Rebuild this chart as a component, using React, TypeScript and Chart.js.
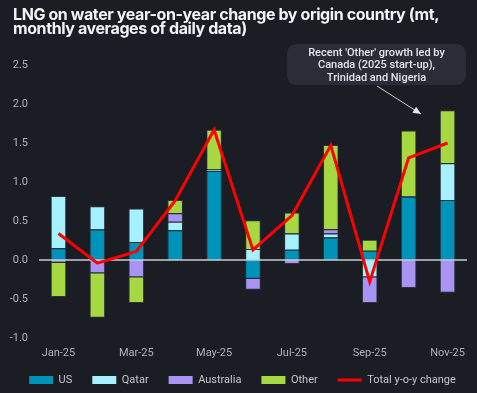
import React, { useEffect, useRef } from "react";
import { Chart, registerables } from "chart.js";
Chart.register(...registerables);

const BG = "#1b1d25";

const months = ["Jan-25", "Feb-25", "Mar-25", "Apr-25", "May-25", "Jun-25", "Jul-25", "Aug-25", "Sep-25", "Oct-25", "Nov-25"];
const usValues = [0.15, 0.39, 0.23, 0.38, 1.14, -0.24, 0.13, 0.29, 0.12, 0.81, 0.77];
const qatarValues = [0.67, 0.3, 0.43, 0.11, 0.02, 0.14, 0.21, 0.05, -0.22, 0.01, 0.47];
const australiaValues = [-0.035, -0.17, -0.22, 0.11, 0, -0.14, -0.05, 0.055, -0.33, -0.36, -0.42];
const otherValues = [-0.44, -0.57, -0.33, 0.17, 0.51, 0.37, 0.27, 1.08, 0.14, 0.84, 0.68];
const totalValues = [0.34, -0.04, 0.11, 0.76, 1.67, 0.13, 0.57, 1.47, -0.28, 1.31, 1.5];

const titleLines = ["LNG on water year-on-year change by origin country (mt,", "monthly averages of daily data)"];
const noteLines = ["Recent 'Other' growth led by", "Canada (2025 start-up),", "Trinidad and Nigeria"];

const zeroLinePlugin = {
  id: "zeroLine",
  afterDatasetDraw(chart: any, args: any) {
    if (args.index !== 0) return;
    const { ctx, chartArea, scales } = chart;
    const y = scales.y.getPixelForValue(0);
    ctx.save();
    ctx.strokeStyle = "#c9ccd4";
    ctx.lineWidth = 1.5;
    ctx.beginPath();
    ctx.moveTo(chartArea.left, y);
    ctx.lineTo(chartArea.right, y);
    ctx.stroke();
    ctx.restore();
  },
};

const legendShiftPlugin = {
  id: "legendShift",
  afterLayout(chart: any) {
    if (chart.legend) {
      chart.legend.top -= 7.5;
      chart.legend.bottom -= 7.5;
    }
  },
};

const notePlugin = {
  id: "note",
  afterDraw(chart: any) {
    const { ctx } = chart;
    const x0 = 287, y0 = 44, w = 179, h = 41, r = 9;
    ctx.save();
    ctx.fillStyle = "#2a2d37";
    ctx.beginPath();
    ctx.roundRect(x0, y0, w, h, r);
    ctx.fill();
    ctx.fillStyle = "#e4e5e9";
    ctx.font = "500 11px Roboto";
    ctx.textAlign = "center";
    ctx.textBaseline = "middle";
    noteLines.forEach((t, i) => ctx.fillText(t, x0 + w / 2, y0 + 9 + i * 12.5));
    // arrow
    const sx = 377, sy = 86, tx = 421, ty = 114;
    ctx.strokeStyle = "#c9ccd4";
    ctx.fillStyle = "#e4e5e9";
    ctx.lineWidth = 1;
    ctx.beginPath();
    ctx.moveTo(sx, sy);
    ctx.lineTo(tx, ty);
    ctx.stroke();
    const ang = Math.atan2(ty - sy, tx - sx);
    const L = 8, W = 3.5;
    ctx.beginPath();
    ctx.moveTo(tx, ty);
    ctx.lineTo(tx - L * Math.cos(ang) + W * Math.sin(ang), ty - L * Math.sin(ang) - W * Math.cos(ang));
    ctx.lineTo(tx - L * Math.cos(ang) - W * Math.sin(ang), ty - L * Math.sin(ang) + W * Math.cos(ang));
    ctx.closePath();
    ctx.fill();
    ctx.restore();
  },
};

export default function App() {
  const ref = useRef<HTMLCanvasElement>(null);
  useEffect(() => {
    document.body.style.margin = "0";
    document.body.style.background = BG;
    const barCommon = {
      type: "bar" as const,
      stack: "bars",
      order: 1,
      borderWidth: 1,
      borderColor: "rgba(45,55,65,0.9)",
      barPercentage: 0.4,
      categoryPercentage: 1,
    };
    const chart = new Chart(ref.current!, {
      type: "bar",
      data: {
        labels: months,
        datasets: [
          { ...barCommon, label: "US", data: usValues, backgroundColor: "#0093b9" },
          { ...barCommon, label: "Qatar", data: qatarValues, backgroundColor: "#a6f1ff" },
          { ...barCommon, label: "Australia", data: australiaValues, backgroundColor: "#a994f3" },
          { ...barCommon, label: "Other", data: otherValues, backgroundColor: "#a6d941" },
          {
            type: "line" as const,
            label: "Total y-o-y change",
            data: totalValues,
            stack: "line",
            order: 0,
            borderColor: "#ff0000",
            backgroundColor: "#ff0000",
            borderWidth: 3,
            pointRadius: 0,
            tension: 0,
          } as any,
        ],
      },
      options: {
        animation: false,
        responsive: false,
        layout: { padding: { top: 65, right: 0, left: 0, bottom: -10 } },
        scales: {
          x: {
            stacked: true,
            grid: { display: false, drawTicks: false },
            border: { display: false },
            ticks: {
              color: "#aeb2bd",
              font: { family: "Roboto", size: 11 },
              autoSkip: false,
              maxRotation: 0,
              padding: 9,
              callback: (_v: any, i: number) => (i % 2 === 0 ? months[i] : ""),
            },
            afterFit: (s: any) => { s.height = 24; },
          },
          y: {
            stacked: true,
            min: -1,
            max: 2.5,
            grid: { display: false, drawTicks: false },
            border: { display: false },
            ticks: {
              stepSize: 0.5,
              color: "#aeb2bd",
              font: { family: "Roboto", size: 11 },
              padding: 11,
              callback: (v: any) => Number(v).toFixed(1),
            },
            afterFit: (s: any) => { s.width = 39; },
          },
          yRightGap: {
            display: true,
            position: "right",
            grid: { display: false, drawTicks: false },
            border: { display: false },
            ticks: { display: false },
            afterFit: (s: any) => { s.width = 18; },
          },
        },
        plugins: {
          legend: {
            position: "bottom",
            labels: {
              color: "#c3c6ce",
              font: { family: "Roboto", size: 11 },
              padding: 20,
              usePointStyle: true,
              pointStyleWidth: 24,
              boxHeight: 8,
              sort: (a: any, b: any) => a.datasetIndex - b.datasetIndex,
              generateLabels: (c: any) =>
                Chart.defaults.plugins.legend.labels.generateLabels(c).map((l: any) => ({
                  ...l,
                  pointStyle: l.datasetIndex === 4 ? "line" : "rect",
                  lineWidth: l.datasetIndex === 4 ? 3 : 0,
                  strokeStyle: l.datasetIndex === 4 ? "#ff0000" : "rgba(0,0,0,0)",
                })),
            },
          },
          tooltip: { enabled: false },
        },
      },
      plugins: [zeroLinePlugin, legendShiftPlugin, notePlugin],
    } as any);
    return () => chart.destroy();
  }, []);

  return (
    <div style={{ position: "relative", width: 477, height: 393, background: BG, overflow: "hidden" }}>
      <canvas ref={ref} width={485} height={393} style={{ position: "absolute", left: 0, top: 0 }} />
      <div
        style={{
          position: "absolute",
          left: 13,
          top: 7,
          color: "#f2f3f5",
          fontFamily: "Inter, 'Noto Sans', sans-serif",
          fontWeight: 700,
          fontSize: 16,
          lineHeight: "14px",
          letterSpacing: "-0.4px",
        }}
      >
        {titleLines[0]}
        <br />
        {titleLines[1]}
      </div>
    </div>
  );
}
